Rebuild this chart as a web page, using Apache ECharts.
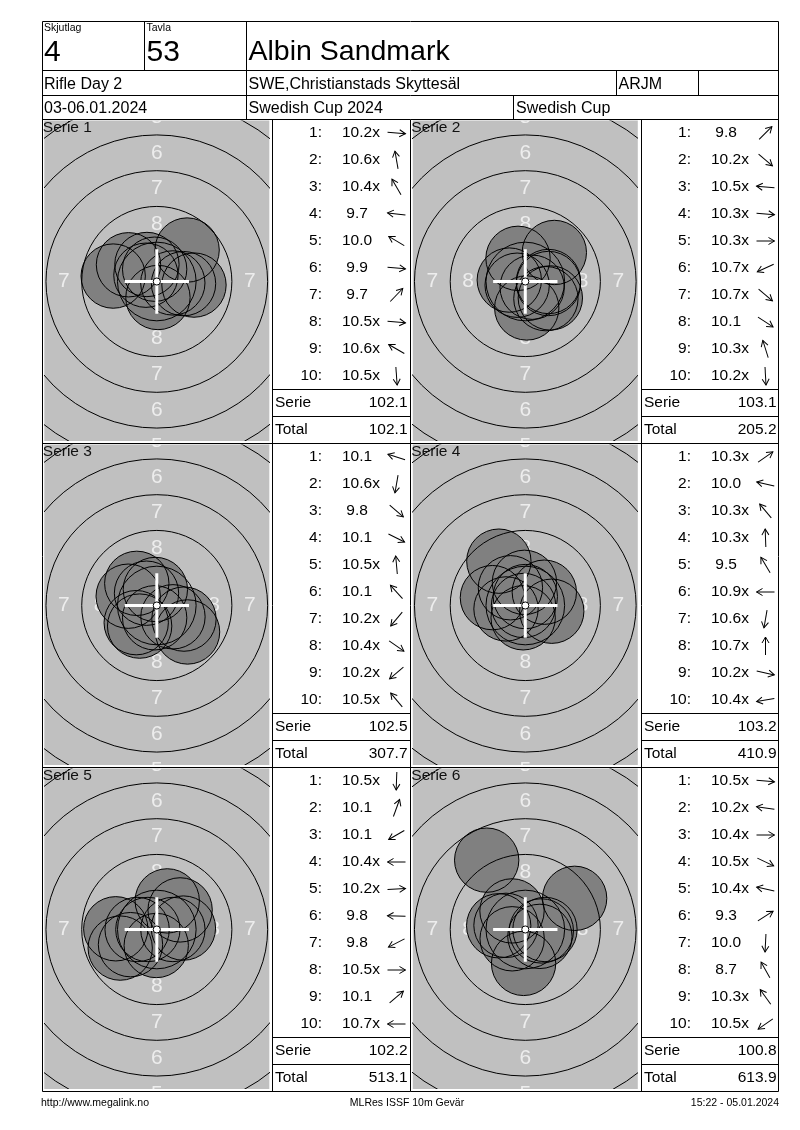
<!DOCTYPE html>
<html><head><meta charset="utf-8">
<script src="https://cdn.jsdelivr.net/npm/echarts@6/dist/echarts.min.js"></script>
<style>html,body{margin:0;padding:0;background:#fff}#c{width:800px;height:1130px}</style>
</head><body><div id="c"></div>
<script>
// ---------- data ----------
const headerLabels = ['Skjutlag', 'Tavla'];
const headerValues = ['4', '53'];
const shooterName = 'Albin Sandmark';
const row2Texts = ['Rifle Day 2', 'SWE,Christianstads Skyttesäl', 'ARJM'];
const row3Texts = ['03-06.01.2024', 'Swedish Cup 2024', 'Swedish Cup'];
const footerTexts = ['http://www.megalink.no', 'MLRes ISSF 10m Gevär', '15:22 - 05.01.2024'];
const serieNames = ['Serie 1', 'Serie 2', 'Serie 3', 'Serie 4', 'Serie 5', 'Serie 6'];

// scores per shot, inner-ten flags
const scores1 = [10.2, 10.6, 10.4, 9.7, 10.0, 9.9, 9.7, 10.5, 10.6, 10.5];
const scores2 = [9.8, 10.2, 10.5, 10.3, 10.3, 10.7, 10.7, 10.1, 10.3, 10.2];
const scores3 = [10.1, 10.6, 9.8, 10.1, 10.5, 10.1, 10.2, 10.4, 10.2, 10.5];
const scores4 = [10.3, 10.0, 10.3, 10.3, 9.5, 10.9, 10.6, 10.7, 10.2, 10.4];
const scores5 = [10.5, 10.1, 10.1, 10.4, 10.2, 9.8, 9.8, 10.5, 10.1, 10.7];
const scores6 = [10.5, 10.2, 10.4, 10.5, 10.4, 9.3, 10.0, 8.7, 10.3, 10.5];
const inner1 = [1, 1, 1, 0, 0, 0, 0, 1, 1, 1];
const inner2 = [0, 1, 1, 1, 1, 1, 1, 0, 1, 1];
const inner3 = [0, 1, 0, 0, 1, 0, 1, 1, 1, 1];
const inner4 = [1, 0, 1, 1, 0, 1, 1, 1, 1, 1];
const inner5 = [1, 0, 0, 1, 1, 0, 0, 1, 0, 1];
const inner6 = [1, 1, 1, 1, 1, 0, 0, 0, 1, 1];

// shot positions (mm from centre, x right, y up)
const shotX1 = [1.87, -0.15, -0.69, -3.05, -1.98, 2.60, 2.12, 1.12, -0.76, 0.08];
const shotY1 = [-0.15, 0.86, 1.19, 0.38, 1.17, -0.25, 2.20, -0.10, 0.44, -1.12];
const shotX2 = [2.03, 1.44, -1.12, 1.62, 1.62, -0.57, 0.48, 1.75, -0.51, 0.10];
const shotY2 = [2.03, -1.20, 0.10, -0.14, 0.00, -0.26, -0.40, -1.15, 1.62, -1.85];
const shotX3 = [-2.00, -0.15, 2.15, 1.90, -0.10, -1.40, -1.20, 1.13, -1.44, -0.72];
const shotY3 = [0.65, -0.86, -1.85, -0.95, 1.12, 1.55, -1.44, -0.79, -1.20, 0.86];
const shotX4 = [1.33, -2.30, -1.04, -0.06, -1.85, -0.125, -0.15, 0.00, 1.85, -1.35];
const shotY4 = [0.93, 0.55, 1.24, 1.62, 3.10, 0.00, -0.86, 0.625, -0.40, -0.24];
const shotX5 = [-0.04, 0.73, -1.84, -1.375, 1.86, -2.87, -2.56, 1.125, 1.63, -0.625];
const shotY5 = [-1.12, 2.00, -1.06, 0.00, 0.10, 0.05, -1.30, 0.00, 1.37, 0.00];
const shotX6 = [1.12, -1.86, 1.375, 1.02, -1.35, 3.45, -0.12, -2.70, -0.93, -0.92];
const shotY6 = [-0.10, 0.26, 0.00, -0.48, 0.29, 2.18, -2.37, 4.85, 1.30, -0.65];

const serieSums = [102.1, 103.1, 102.5, 103.2, 102.2, 100.8];
const runningTotals = [102.1, 205.2, 307.7, 410.9, 513.1, 613.9];

// target geometry (mm)
const ringRadiiMm = [2.75, 5.25, 7.75, 10.25, 12.75, 15.25];
const ringLabelNums = [8, 7, 6, 5];
const ringLabelRadiiMm = [4.0, 6.5, 9.0, 11.5];
const PELLET_R = 2.25, TEN_R = 0.25, CROSS_HALF = 2.25;

// ---------- layout ----------
const FONT = '"Liberation Sans", Arial, sans-serif';
const PX_MM = 14.3;
const targetCX = [156.8, 525.3];
const panelTop = [119.5, 443.5, 767.5];
const tableX = [272.5, 641.5];
const tableRight = [410.5, 778.5];

const allScores = [scores1, scores2, scores3, scores4, scores5, scores6];
const allInner = [inner1, inner2, inner3, inner4, inner5, inner6];
const allX = [shotX1, shotX2, shotX3, shotX4, shotX5, shotX6];
const allY = [shotY1, shotY2, shotY3, shotY4, shotY5, shotY6];

function T(text, x, y, size, align, fill) {
  return {type: 'text', x: x, y: y, z: 100, silent: true,
    style: {text: text, font: size + 'px ' + FONT, fill: fill || '#000',
      align: align || 'left', verticalAlign: 'middle', textAlign: align || 'left', textVerticalAlign: 'middle'}};
}
function L(x1, y1, x2, y2) {
  return {type: 'line', z: 100, silent: true, shape: {x1: x1, y1: y1, x2: x2, y2: y2},
    style: {stroke: '#000', lineWidth: 1}};
}

function ringRender(params, api) {
  const c = api.coord([api.value(0), api.value(1)]);
  const r = api.size([api.value(2), 0])[0];
  return {type: 'circle', shape: {cx: c[0], cy: c[1], r: r}, style: {fill: null, stroke: '#000', lineWidth: 1}};
}
function labelRender(params, api) {
  const rr = api.value(2), n = api.value(3);
  const pts = [[0, rr], [0, -rr], [-rr, 0], [rr, 0]];
  return {type: 'group', children: pts.map(function (p) {
    const q = api.coord(p);
    return {type: 'text', x: q[0], y: q[1], style: {text: String(n), fill: '#ededed', font: '21px ' + FONT,
      align: 'center', verticalAlign: 'middle', textAlign: 'center', textVerticalAlign: 'middle'}};
  })};
}
function shotFillRender(params, api) {
  const c = api.coord([api.value(0), api.value(1)]);
  const r = api.size([PELLET_R, 0])[0];
  return {type: 'circle', shape: {cx: c[0], cy: c[1], r: r}, style: {fill: '#808080', stroke: null}};
}
function shotLineRender(params, api) {
  const c = api.coord([api.value(0), api.value(1)]);
  const r = api.size([PELLET_R, 0])[0];
  return {type: 'circle', shape: {cx: c[0], cy: c[1], r: r}, style: {fill: null, stroke: '#000', lineWidth: 1}};
}
function centerRender(params, api) {
  const c = api.coord([0, 0]);
  const h = api.size([CROSS_HALF, 0])[0];
  const rr = api.size([TEN_R, 0])[0];
  return {type: 'group', children: [
    {type: 'line', shape: {x1: c[0] - h, y1: c[1], x2: c[0] + h, y2: c[1]}, style: {stroke: '#fff', lineWidth: 3}},
    {type: 'line', shape: {x1: c[0], y1: c[1] - h, x2: c[0], y2: c[1] + h}, style: {stroke: '#fff', lineWidth: 3}},
    {type: 'circle', shape: {cx: c[0], cy: c[1], r: rr}, style: {fill: '#fff', stroke: '#000', lineWidth: 1}}
  ]};
}

const grids = [], xAxes = [], yAxes = [], series = [], g = [];

for (let k = 0; k < 6; k++) {
  const r = Math.floor(k / 2), c = k % 2;
  const cx = targetCX[c], cy = panelTop[r] + 162;
  const gl = cx - 112.5, gt = panelTop[r] + 1, gw = 225, gh = 320.5;
  grids.push({left: gl, top: gt, width: gw, height: gh, show: true, backgroundColor: '#c0c0c0',
    borderWidth: 0, outerBoundsMode: 'none'});
  xAxes.push({type: 'value', gridIndex: k, min: (gl - cx) / PX_MM, max: (gl + gw - cx) / PX_MM, show: false});
  yAxes.push({type: 'value', gridIndex: k, min: -(gt + gh - cy) / PX_MM, max: (cy - gt) / PX_MM, show: false});

  const common = {type: 'custom', xAxisIndex: k, yAxisIndex: k, clip: true, silent: true, animation: false};
  series.push(Object.assign({}, common, {name: 'labels' + k, z: 2,
    data: ringLabelRadiiMm.map(function (rr, i) { return [0, 0, rr, ringLabelNums[i]]; }), renderItem: labelRender}));
  const shots = allX[k].map(function (x, i) { return [x, allY[k][i]]; });
  series.push(Object.assign({}, common, {name: 'shotsFill' + k, z: 3, data: shots, renderItem: shotFillRender}));
  series.push(Object.assign({}, common, {name: 'rings' + k, z: 4,
    data: ringRadiiMm.map(function (rr) { return [0, 0, rr]; }), renderItem: ringRender}));
  series.push(Object.assign({}, common, {name: 'shotsLine' + k, z: 5, data: shots, renderItem: shotLineRender}));
  series.push(Object.assign({}, common, {name: 'center' + k, z: 6, data: [[0, 0]], renderItem: centerRender}));

  // serie label on target
  g.push(T(serieNames[k], gl - 1.5, panelTop[r] + 8.5, 15.5, 'left', '#111'));

  // table
  const tx = tableX[c], top = panelTop[r];
  for (let i = 0; i < 10; i++) {
    const y = top + 13.5 + 27 * i;
    const s = allScores[k][i];
    g.push(T((i + 1) + ':', tx + 49.5, y, 15.5, 'right'));
    g.push(T((s < 10 ? ' ' : '') + s.toFixed(1) + (allInner[k][i] ? 'x' : ''), tx + 69.5, y, 15.5, 'left'));
    const ang = Math.atan2(allY[k][i], allX[k][i]);
    g.push({type: 'group', x: tx + 124, y: y, rotation: ang, z: 100, silent: true, children: [
      {type: 'line', shape: {x1: -9, y1: 0, x2: 9, y2: 0}, style: {stroke: '#000', lineWidth: 1}},
      {type: 'polyline', shape: {points: [[3, -3.5], [9, 0], [3, 3.5]]}, style: {stroke: '#000', fill: null, lineWidth: 1}}
    ]});
  }
  g.push(L(tx, top + 270, tableRight[c], top + 270));
  g.push(L(tx, top + 297, tableRight[c], top + 297));
  g.push(T('Serie', tx + 2.5, top + 283.5, 15.5, 'left'));
  g.push(T(serieSums[k].toFixed(1), tx + 135, top + 283.5, 15.5, 'right'));
  g.push(T('Total', tx + 2.5, top + 310.5, 15.5, 'left'));
  g.push(T(runningTotals[k].toFixed(1), tx + 135, top + 310.5, 15.5, 'right'));
}

// header frame
[21.5, 70.5, 95.5, 119.5, 443.5, 767.5, 1091.5].forEach(function (y) { g.push(L(42.5, y, 778.5, y)); });
g.push(L(42.5, 21.5, 42.5, 1091.5));
g.push(L(778.5, 21.5, 778.5, 1091.5));
g.push(L(144.5, 21.5, 144.5, 70.5));
g.push(L(246.5, 21.5, 246.5, 119.5));
g.push(L(616.5, 70.5, 616.5, 95.5));
g.push(L(698.5, 70.5, 698.5, 95.5));
g.push(L(513.5, 95.5, 513.5, 119.5));
[272.5, 410.5, 641.5].forEach(function (x) { g.push(L(x, 119.5, x, 1091.5)); });

// header texts
g.push(T(headerLabels[0], 44, 28, 10.5));
g.push(T(headerLabels[1], 146.5, 28, 10.5));
g.push(T(headerValues[0], 44, 52.5, 30));
g.push(T(headerValues[1], 146.5, 52.5, 30));
g.push(T(shooterName, 248.5, 52.5, 28.5));
g.push(T(row2Texts[0], 44, 85, 16));
g.push(T(row2Texts[1], 248.5, 85, 16));
g.push(T(row2Texts[2], 618.5, 85, 16));
g.push(T(row3Texts[0], 44, 109, 16));
g.push(T(row3Texts[1], 248.5, 109, 16));
g.push(T(row3Texts[2], 516, 109, 16));

// footer
g.push(T(footerTexts[0], 41, 1103, 10.5, 'left'));
g.push(T(footerTexts[1], 407, 1103, 10.5, 'center'));
g.push(T(footerTexts[2], 779, 1103, 10.5, 'right'));

const chart = echarts.init(document.getElementById('c'), null, {renderer: 'canvas', width: 800, height: 1130});
chart.setOption({
  animation: false,
  backgroundColor: '#fff',
  grid: grids,
  xAxis: xAxes,
  yAxis: yAxes,
  series: series,
  graphic: {elements: g}
});
</script>
</body></html>
